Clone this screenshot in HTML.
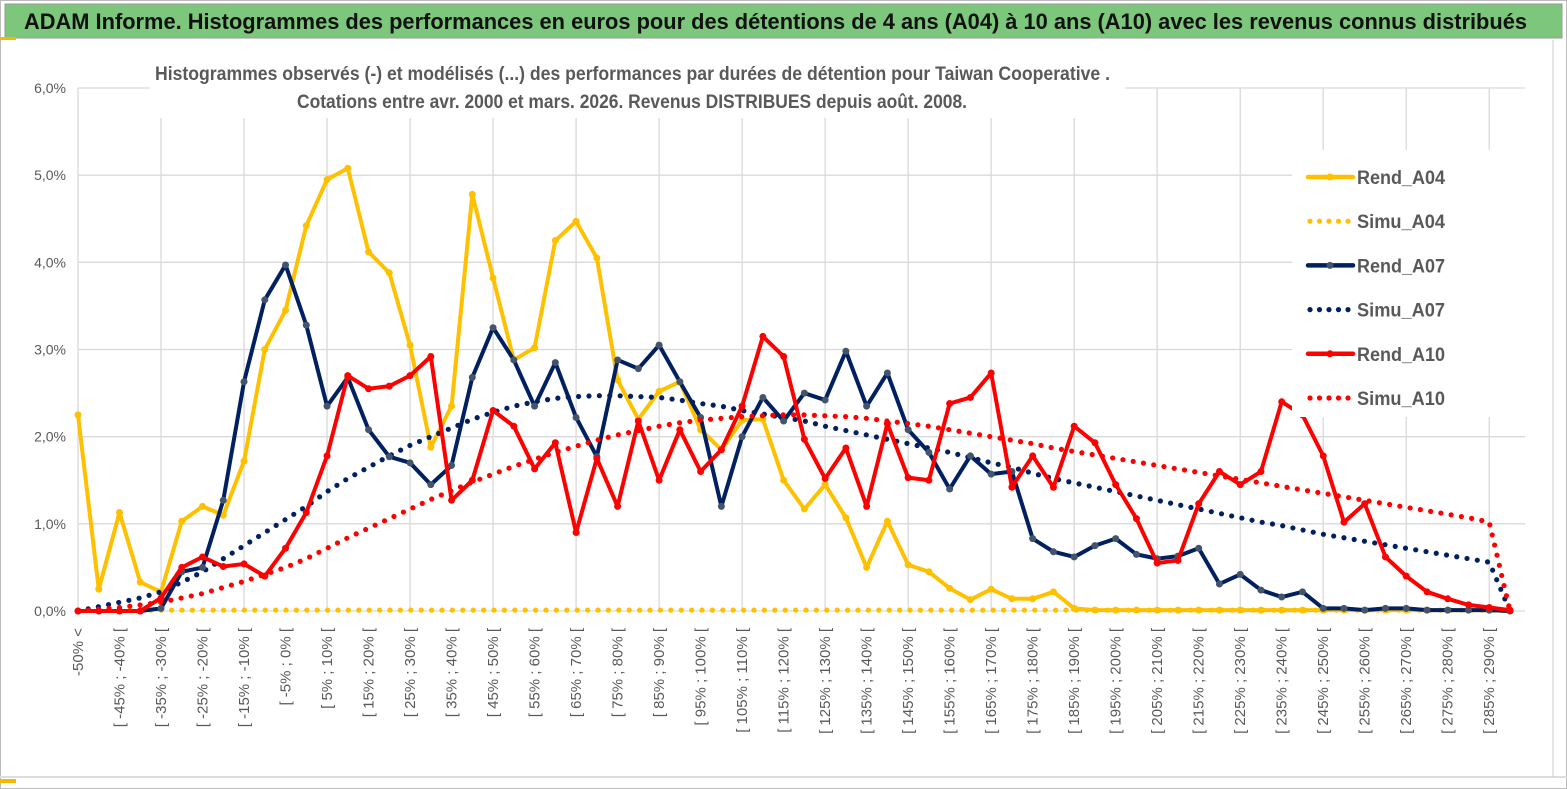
<!DOCTYPE html>
<html><head><meta charset="utf-8"><style>
body{margin:0;background:#fff;}
#wrap{position:relative;width:1567px;height:789px;overflow:hidden;font-family:"Liberation Sans",sans-serif;}
svg text{font-family:"Liberation Sans",sans-serif;}
</style></head><body>
<div id="wrap">
<svg id="chart" width="1567" height="789"></svg>
</div>
<script>
const categories=[];
const a04=[2.25,0.25,1.13,0.33,0.22,1.03,1.2,1.1,1.72,3.0,3.45,4.42,4.95,5.08,4.12,3.88,3.05,1.88,2.35,4.78,3.82,2.88,3.02,4.25,4.47,4.05,2.65,2.2,2.52,2.63,2.08,1.85,2.19,2.2,1.5,1.17,1.45,1.07,0.5,1.03,0.53,0.45,0.26,0.13,0.25,0.14,0.14,0.22,0.03,0.01,0.01,0.01,0.01,0.01,0.01,0.01,0.01,0.01,0.01,0.01,0.01,0.01,0.01,0.01,0.01,0.01,0.01,0.01,0.01,0];
const a07=[0,0,0,0,0.03,0.45,0.5,1.27,2.63,3.57,3.97,3.28,2.35,2.68,2.08,1.77,1.7,1.45,1.67,2.68,3.25,2.88,2.35,2.85,2.22,1.77,2.88,2.78,3.05,2.63,2.22,1.2,2.0,2.45,2.18,2.5,2.42,2.98,2.35,2.73,2.08,1.82,1.4,1.78,1.57,1.6,0.83,0.68,0.62,0.75,0.83,0.65,0.6,0.63,0.72,0.31,0.42,0.24,0.16,0.22,0.03,0.03,0.01,0.03,0.03,0.01,0.01,0.01,0.01,0];
const a10=[0,0,0,0,0.15,0.5,0.62,0.51,0.54,0.4,0.72,1.13,1.78,2.7,2.55,2.58,2.7,2.92,1.27,1.5,2.3,2.12,1.63,1.93,0.9,1.75,1.2,2.18,1.5,2.08,1.6,1.85,2.35,3.15,2.92,1.97,1.52,1.87,1.2,2.15,1.53,1.5,2.38,2.45,2.73,1.42,1.78,1.42,2.12,1.93,1.45,1.06,0.55,0.58,1.23,1.6,1.45,1.6,2.4,2.25,1.78,1.02,1.23,0.62,0.4,0.22,0.14,0.07,0.04,0.01];
const s04=[0.01,0.01,0.01,0.01,0.01,0.01,0.01,0.01,0.01,0.01,0.01,0.01,0.01,0.01,0.01,0.01,0.01,0.01,0.01,0.01,0.01,0.01,0.01,0.01,0.01,0.01,0.01,0.01,0.01,0.01,0.01,0.01,0.01,0.01,0.01,0.01,0.01,0.01,0.01,0.01,0.01,0.01,0.01,0.01,0.01,0.01,0.01,0.01,0.01,0.01,0.01,0.01,0.01,0.01,0.01,0.01,0.01,0.01,0.01,0.01,0.01,0.01,0.01,0.01,0.01,0.01,0.01,0.01,0.01,0];
const s07=[0,0.05,0.1,0.15,0.22,0.33,0.45,0.6,0.75,0.9,1.05,1.2,1.37,1.52,1.65,1.78,1.9,2.0,2.1,2.2,2.28,2.35,2.4,2.44,2.46,2.47,2.47,2.46,2.45,2.42,2.38,2.35,2.3,2.26,2.22,2.18,2.12,2.07,2.02,1.97,1.92,1.87,1.82,1.76,1.7,1.65,1.58,1.52,1.47,1.42,1.37,1.32,1.27,1.22,1.17,1.12,1.07,1.02,0.98,0.93,0.88,0.84,0.8,0.76,0.72,0.68,0.64,0.6,0.56,0];
const s10=[0,0.02,0.04,0.07,0.1,0.15,0.2,0.27,0.34,0.42,0.5,0.6,0.72,0.84,0.95,1.06,1.17,1.28,1.38,1.48,1.57,1.66,1.74,1.82,1.89,1.96,2.02,2.07,2.12,2.16,2.19,2.21,2.23,2.24,2.25,2.25,2.24,2.23,2.21,2.18,2.15,2.12,2.08,2.04,2.0,1.96,1.92,1.87,1.83,1.79,1.75,1.71,1.67,1.63,1.59,1.55,1.51,1.47,1.43,1.39,1.35,1.31,1.27,1.23,1.19,1.15,1.11,1.07,1.02,0];
const yTicks=[0,1,2,3,4,5,6];
for(let i=0;i<70;i++){ if(i===0)categories.push('-50% <'); else {const lo=-55+5*i; categories.push('[ '+lo+'% ; '+(lo+5)+'% [');} }

const NS='http://www.w3.org/2000/svg';
const svg=document.getElementById('chart');
const X0=78,X1=1510,Y0=611,Y6=88;
const x=i=>X0+(X1-X0)*i/(categories.length-1);
const y=v=>Y0-(Y0-Y6)*v/6;
function el(t,a,p){const e=document.createElementNS(NS,t);for(const k in a)e.setAttribute(k,a[k]);(p||svg).appendChild(e);return e;}

let e=el('rect',{x:0.5,y:0.5,width:1566,height:788,fill:'#fff',stroke:'#bbb'});


e=el('rect',{x:5,y:4,width:1557,height:34,fill:'#7dc77d',stroke:'#999'});


el('rect',{x:0,y:37,width:16,height:3,fill:'#f5b800'});
el('rect',{x:0,y:779,width:16,height:4,fill:'#f5b800'});
el('line',{x1:0,y1:777,x2:1567,y2:777,stroke:'#ddd','stroke-width':2});
el('line',{x1:1553,y1:40,x2:1553,y2:777,stroke:'#ccc'});
e=el('text',{x:24,y:29,'font-size':'22','font-weight':'bold',fill:'#111',textLength:'1503',lengthAdjust:'spacingAndGlyphs'});
e.textContent='ADAM Informe. Histogrammes des performances en euros pour des détentions de 4 ans (A04) à 10 ans (A10) avec les revenus connus distribués';



const g=el('g',{});


yTicks.forEach(t=>{
  el('line',{x1:X0,y1:y(t),x2:1525,y2:y(t),stroke:'#d9d9d9','stroke-width':1.3},g);
  const tx=el('text',{x:66,y:y(t)+5,'font-size':'14','text-anchor':'end',fill:'#595959'});
  tx.textContent=t.toFixed(1).replace('.',',')+'%';
  
  
});
for(let i=0;i<categories.length;i+=4) el('line',{x1:x(i),y1:Y6,x2:x(i),y2:Y0,stroke:'#d9d9d9','stroke-width':1.3},g);
for(let i=0;i<categories.length;i+=2){
  const tx=el('text',{x:0,y:0,'font-size':'15','text-anchor':'end',fill:'#595959',transform:`translate(${x(i)+5},628) rotate(-90)`});
  tx.textContent=categories[i];
  
  
}

e=el('rect',{x:150,y:58,width:975,height:60,fill:'#fff'});
[['Histogrammes observés (-) et modélisés (...)  des performances par durées de détention pour Taiwan Cooperative .',80,155,955],['Cotations entre avr. 2000 et mars. 2026. Revenus DISTRIBUES depuis août. 2008.',108,297,670]].forEach((s,k)=>{
  const tx=el('text',{x:s[2],y:s[1],'font-size':'19','font-weight':'bold',fill:'#595959',textLength:s[3],lengthAdjust:'spacingAndGlyphs'});
  tx.textContent=s[0];
  
  
});

function series(data,color,dotted,name,mcol){
  const gg=el('g',{});
  
  
  if(dotted){
    const step=10.4; let carry=0;
    for(let i=0;i<data.length-1;i++){
      const xa=x(i),ya=y(data[i]),xb=x(i+1),yb=y(data[i+1]);
      const L=Math.hypot(xb-xa,yb-ya); let d=carry;
      while(d<=L){const t=d/L;el('circle',{cx:xa+(xb-xa)*t,cy:ya+(yb-ya)*t,r:2.6,fill:color},gg);d+=step;}
      carry=d-L;
    }
    el('circle',{cx:x(data.length-1),cy:y(data[data.length-1]),r:2.6,fill:color},gg);
  } else {
    el('polyline',{points:data.map((v,i)=>x(i)+','+y(v)).join(' '),fill:'none',stroke:color,'stroke-width':4,'stroke-linejoin':'round'},gg);
    data.forEach((v,i)=>el('circle',{cx:x(i),cy:y(v),r:3.5,fill:mcol},gg));
  }
}
series(s04,'#ffc000',true,'series-simu-a04');
series(a04,'#ffc000',false,'series-rend-a04','#ffc000');
series(s07,'#002060',true,'series-simu-a07');
series(a07,'#002060',false,'series-rend-a07','#44546a');
series(s10,'#ff0000',true,'series-simu-a10');
series(a10,'#ff0000',false,'series-rend-a10','#ff0000');

const lg=el('g',{});


el('rect',{x:1292,y:150,width:245,height:267,fill:'#fff'},lg);
const leg=[['Rend_A04','#ffc000',0,'#ffc000'],['Simu_A04','#ffc000',1],['Rend_A07','#002060',0,'#44546a'],['Simu_A07','#002060',1],['Rend_A10','#ff0000',0,'#ff0000'],['Simu_A10','#ff0000',1]];
leg.forEach((l,k)=>{
  const ly=177+k*44.2;
  const item=el('g',{},lg);
  
  
  if(l[2]){for(let d=0;d<5;d++)el('circle',{cx:1310+d*9.5,cy:ly,r:2.6,fill:l[1]},item);}
  else{el('line',{x1:1308,y1:ly,x2:1353,y2:ly,stroke:l[1],'stroke-width':4.5,'stroke-linecap':'round'},item);el('circle',{cx:1330,cy:ly,r:3.5,fill:l[3]},item);}
  const tx=el('text',{x:1357,y:ly+7,'font-size':'19','font-weight':'bold',fill:'#595959',textLength:'88',lengthAdjust:'spacingAndGlyphs'},item);
  tx.textContent=l[0];
});
</script>
</body></html>
